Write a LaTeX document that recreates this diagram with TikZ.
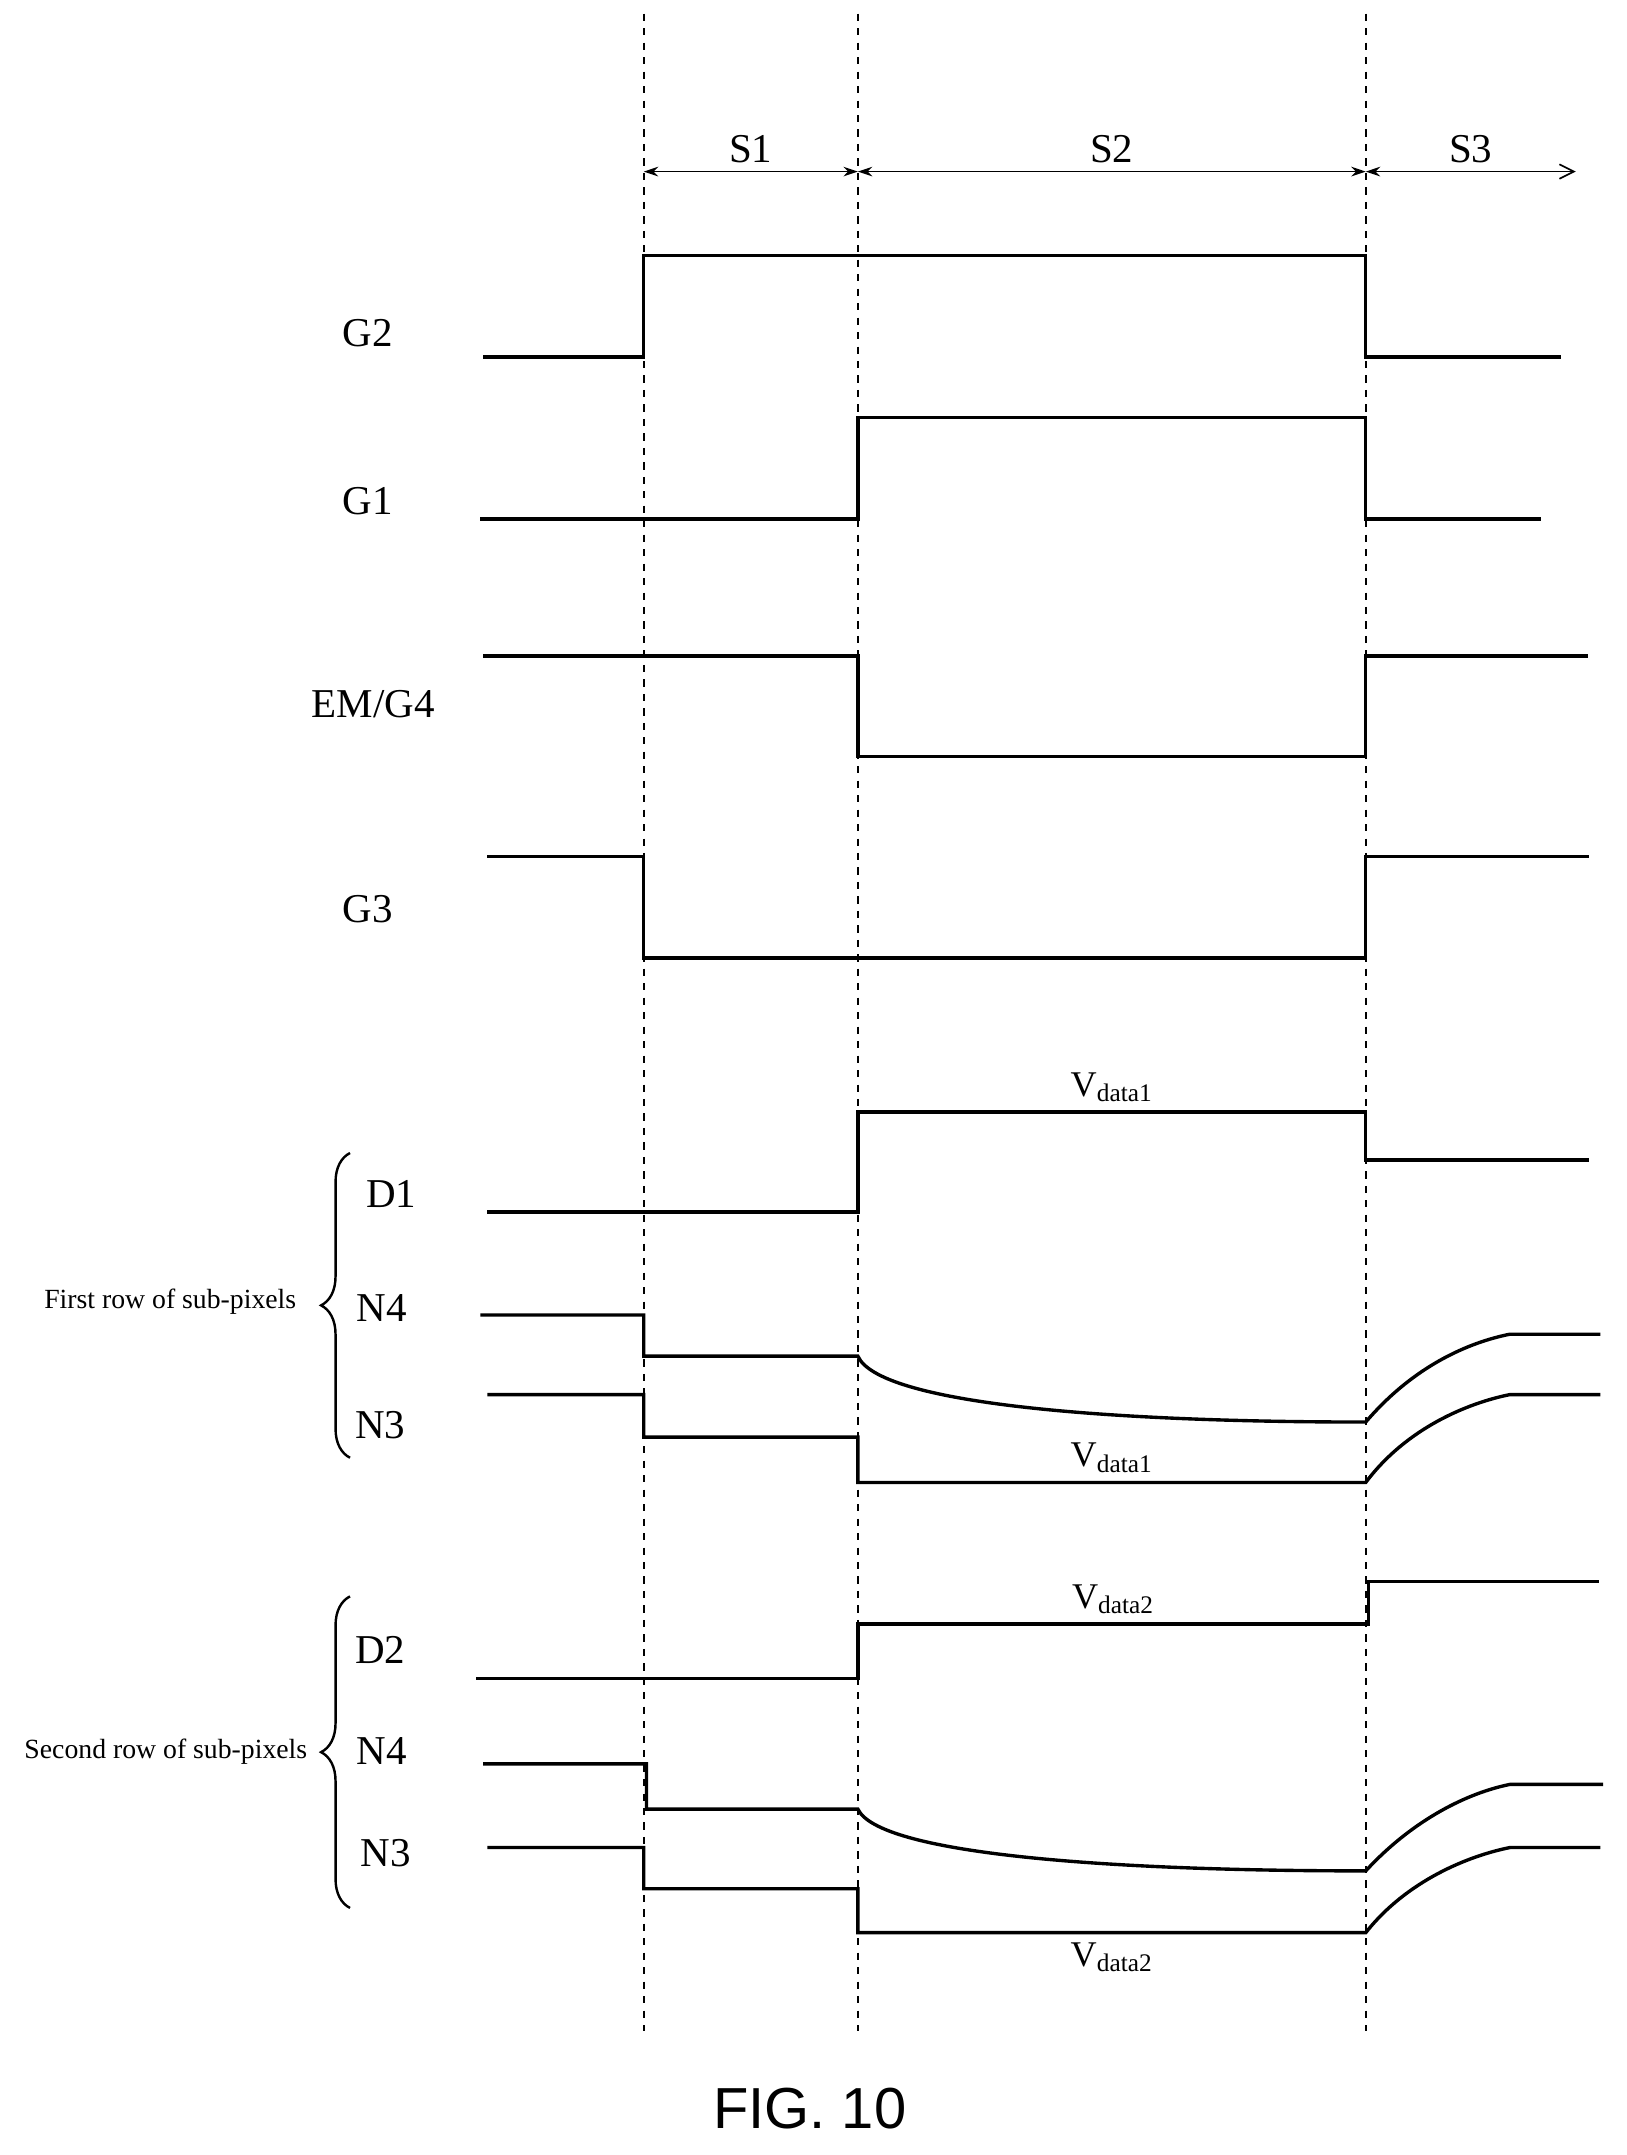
\documentclass[tikz,border=0pt]{standalone}
\usepackage{fontspec}
\setmainfont{Liberation Serif}
\newfontfamily\figfont{Liberation Sans}
\usetikzlibrary{decorations.pathreplacing,arrows.meta}
\begin{document}
\begin{tikzpicture}[x=0.02cm, y=-0.02cm,
    wave/.style={line width=1.4pt},
    span/.style={line width=0.7pt, {Stealth[length=6pt,width=4pt]}-{Stealth[length=6pt,width=4pt]}},
    sig/.style={font=\fontsize{17}{20}\selectfont},
    vlab/.style={font=\fontsize{15}{18}\selectfont},
    rowlab/.style={font=\fontsize{11.5}{13}\selectfont, anchor=east}]

        % Bounding box
        \useasboundingbox (0,0) rectangle (1185,1570);

        % Dashed phase boundaries
        \foreach \x in {469,625,995} {
            \draw[dashed, line width=0.8pt] (\x,10) -- (\x,1480);
        }

        % Phase arrows
        \draw[span] (469,125) -- node[above, sig] {S1} (625,125);
        \draw[span] (625,125) -- node[above, sig] {S2} (995,125);
        \draw[span, {Stealth[length=6pt,width=4pt]}-{Straight Barb[length=6pt,width=6pt]}] (995,125) -- node[above, sig] {S3} (1148,125);

        % Gate signals
        \node[sig] (g2) at (268,243) {G2};
        \draw[wave] (352,260) -- (469,260) -- (469,186) -- (995,186) -- (995,260) -- (1137,260);
        \node[sig] (g1) at (268,365) {G1};
        \draw[wave] (350,378) -- (625,378) -- (625,304) -- (995,304) -- (995,378) -- (1123,378);
        \node[sig] (em) at (272,513) {EM/G4};
        \draw[wave] (352,478) -- (625,478) -- (625,551) -- (995,551) -- (995,478) -- (1157,478);
        \node[sig] (g3) at (268,662) {G3};
        \draw[wave] (355,624) -- (469,624) -- (469,698) -- (995,698) -- (995,624) -- (1158,624);

        % First row of sub-pixels
        \node[sig] (d1) at (285,870) {D1};
        \draw[wave] (355,883) -- (625,883) -- (625,810) -- node[above, vlab] {V\textsubscript{data1}} (995,810) -- (995,845) -- (1158,845);
        \node[sig] (n4a) at (278,953) {N4};
        \draw[wave] (350,958) -- (469,958) -- (469,988) -- (625,988)
            .. controls (640,1022) and (800,1036) .. (995,1036)
            .. controls (1030,995) and (1070,978) .. (1100,972) -- (1166,972);
        \node[sig] (n3a) at (277,1038) {N3};
        \draw[wave] (355,1016) -- (469,1016) -- (469,1047) -- (625,1047) -- (625,1080)
            -- node[above, vlab] {V\textsubscript{data1}} (995,1080)
            .. controls (1025,1040) and (1070,1022) .. (1100,1016) -- (1166,1016);
        \draw[decorate, decoration={brace, amplitude=12pt}, line width=1pt] (255,1062) -- (255,840);
        \node[rowlab] (row1) at (222,948) {First row of sub-pixels};

        % Second row of sub-pixels
        \node[sig] (d2) at (277,1202) {D2};
        \draw[wave] (347,1223) -- (625,1223) -- (625,1183) -- node[above, vlab] {V\textsubscript{data2}} (997,1183) -- (997,1152) -- (1165,1152);
        \node[sig] (n4b) at (278,1276) {N4};
        \draw[wave] (352,1285) -- (471,1285) -- (471,1318) -- (625,1318)
            .. controls (640,1350) and (800,1363) .. (995,1363)
            .. controls (1030,1325) and (1070,1306) .. (1100,1300) -- (1168,1300);
        \node[sig] (n3b) at (281,1350) {N3};
        \draw[wave] (355,1346) -- (469,1346) -- (469,1376) -- (625,1376) -- (625,1408)
            -- node[below, vlab] {V\textsubscript{data2}} (995,1408)
            .. controls (1025,1370) and (1070,1352) .. (1100,1346) -- (1166,1346);
        \draw[decorate, decoration={brace, amplitude=12pt}, line width=1pt] (255,1390) -- (255,1163);
        \node[rowlab] (row2) at (230,1276) {Second row of sub-pixels};

        % Caption
        \node[font=\figfont\fontsize{24}{28}\selectfont] (cap) at (590,1536) {FIG. 10};

    \end{tikzpicture}
\end{document}
